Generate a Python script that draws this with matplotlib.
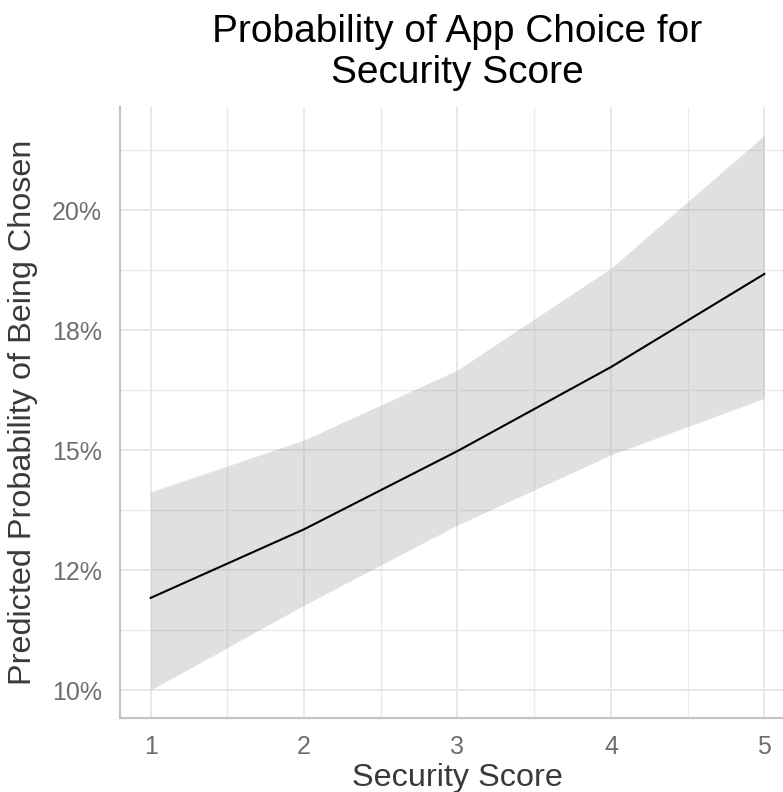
import matplotlib
matplotlib.use("Agg")
import matplotlib.pyplot as plt
from matplotlib.ticker import FixedLocator

plt.rcParams['font.family'] = ['Liberation Sans', 'DejaVu Sans']

# predicted probability by security score
security_score = [1, 2, 3, 4, 5]
predicted = [0.1192, 0.1335, 0.1498, 0.1673, 0.1867]
ci_low = [0.1000, 0.1177, 0.1344, 0.1490, 0.1608]
ci_high = [0.1413, 0.1521, 0.1667, 0.1879, 0.2156]

y_ticks = [0.10, 0.125, 0.15, 0.175, 0.20]
y_labels = ['10%', '12%', '15%', '18%', '20%']
y_minor = [0.1125, 0.1375, 0.1625, 0.1875, 0.2125]
x_minor = [1.5, 2.5, 3.5, 4.5]

fig = plt.figure(figsize=(7.83, 7.92), dpi=100)
ax = fig.add_axes([120 / 783, 1 - 718 / 792, 675 / 783, 611 / 792])

# grid
ax.set_xticks(security_score)
ax.set_yticks(y_ticks)
ax.set_yticklabels(y_labels)
ax.xaxis.set_minor_locator(FixedLocator(x_minor))
ax.yaxis.set_minor_locator(FixedLocator(y_minor))
ax.grid(which='major', color='#e8e8e8', linewidth=1.4, zorder=0)
ax.grid(which='minor', color='#ebebeb', linewidth=1.0, zorder=0)
ax.set_axisbelow(True)

ax.fill_between(security_score, ci_low, ci_high, color='#999999', alpha=0.3,
                linewidth=0, zorder=2)
ax.plot(security_score, predicted, color='black', linewidth=1.5, zorder=3)

ax.set_xlim(0.8, 5.2)
ax.set_ylim(0.09417, 0.2215)

for s in ['top', 'right']:
    ax.spines[s].set_visible(False)
for s in ['left', 'bottom']:
    ax.spines[s].set_color('#c4c4c4')
    ax.spines[s].set_linewidth(1.6)

ax.tick_params(which='both', length=0)
ax.tick_params(axis='y', labelsize=18, labelcolor='#6e6e6e', pad=13)
ax.tick_params(axis='x', labelsize=18, labelcolor='#6e6e6e', pad=12)

ax.set_xlabel('Security Score', fontsize=23.3, color='#3a3a3a', labelpad=3)
ax.set_ylabel('Predicted Probability of Being Chosen', fontsize=23.3,
              color='#3a3a3a', labelpad=10)

# two-line title, placed by baseline
fig.text(457 / 783, 1 - 42 / 792, 'Probability of App Choice for',
         ha='center', va='baseline', fontsize=28, color='black')
fig.text(457 / 783, 1 - 83 / 792, 'Security Score',
         ha='center', va='baseline', fontsize=28, color='black')

fig.savefig('out.png', dpi=100)
